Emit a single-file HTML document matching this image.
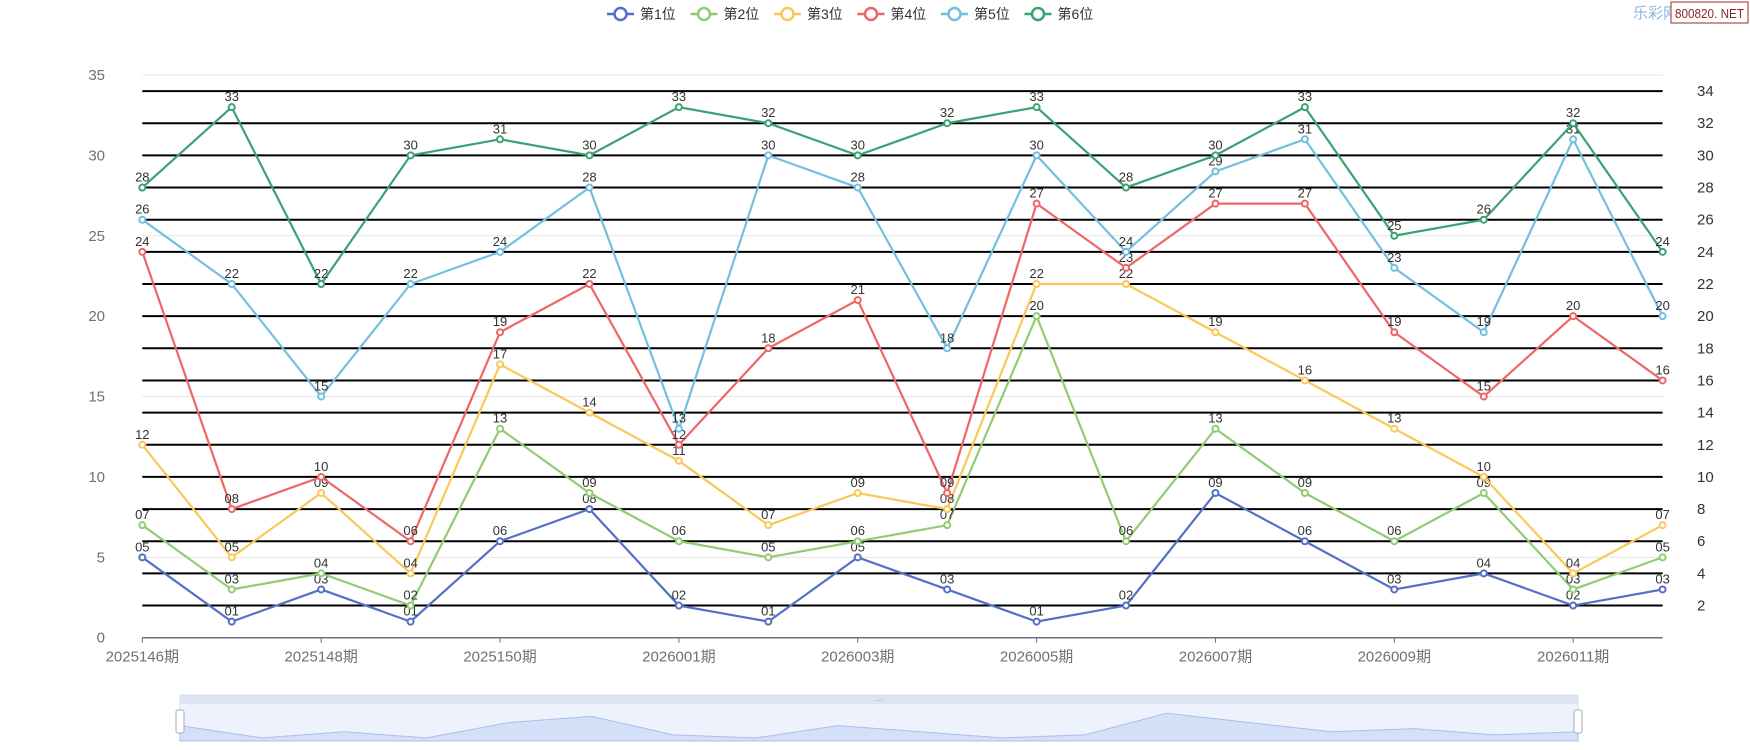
<!DOCTYPE html>
<html><head><meta charset="utf-8">
<style>
html,body{margin:0;padding:0;background:#fff;width:1750px;height:750px;overflow:hidden}
svg{display:block;font-family:"Liberation Sans","Noto Sans CJK SC",sans-serif}
</style></head>
<body>
<svg id="chart" width="1750" height="750" viewBox="0 0 1750 750">
  <g id="grid"></g>
  <g id="axes"></g>
  <g id="series"></g>
  <g id="legend"></g>
  <g>
    <text x="1633" y="18" font-size="15" fill="#8fb6dc">乐彩网</text>
    <rect x="1671" y="2" width="77" height="21" fill="#fff" stroke="#9b2a2a" stroke-width="1"/>
    <text x="1675" y="18" font-size="13" fill="#8b2323" textLength="69" lengthAdjust="spacingAndGlyphs">800820. NET</text>
  </g>
  <g>
    <rect x="180" y="695" width="1398" height="46" fill="#eef2fd" stroke="#d6dcec"/>
    <rect x="180" y="695" width="1398" height="9" fill="#dde3f2"/>
    <path id="sliderArea" fill="#d3e0f8" stroke="#a9c0ea" stroke-width="1"></path>
    <rect x="176" y="710" width="8" height="23" rx="2" fill="#fff" stroke="#aab"/>
    <rect x="1574" y="710" width="8" height="23" rx="2" fill="#fff" stroke="#aab"/>
    <text x="879" y="703" font-size="9" fill="#999" text-anchor="middle">···</text>
  </g>
</svg>
<script>
const categories = ["2025146期","2025147期","2025148期","2025149期","2025150期","2025151期","2026001期","2026002期","2026003期","2026004期","2026005期","2026006期","2026007期","2026008期","2026009期","2026010期","2026011期","2026012期"];
const seriesNames = ["第1位","第2位","第3位","第4位","第5位","第6位"];
const s1 = [5,1,3,1,6,8,2,1,5,3,1,2,9,6,3,4,2,3];
const s2 = [7,3,4,2,13,9,6,5,6,7,20,6,13,9,6,9,3,5];
const s3 = [12,5,9,4,17,14,11,7,9,8,22,22,19,16,13,10,4,7];
const s4 = [24,8,10,6,19,22,12,18,21,9,27,23,27,27,19,15,20,16];
const s5 = [26,22,15,22,24,28,13,30,28,18,30,24,29,31,23,19,31,20];
const s6 = [28,33,22,30,31,30,33,32,30,32,33,28,30,33,25,26,32,24];
const leftTicks = [0,5,10,15,20,25,30,35];
const rightTicks = [2,4,6,8,10,12,14,16,18,20,22,24,26,28,30,32,34];
const colors = ["#5470c6","#91cc75","#fac858","#ee6666","#73c0de","#3ba272"];
const allSeries = [s1,s2,s3,s4,s5,s6];

const NS="http://www.w3.org/2000/svg";
const X0=142.3, X1=1662.6, Y0=637.7, Y35=75;
function xs(i){return X0+(X1-X0)*i/(categories.length-1);}
function ys(v){return Y0-(Y0-Y35)*v/35;}
function mk(tag,attrs,parent){const e=document.createElementNS(NS,tag);for(const k in attrs)e.setAttribute(k,attrs[k]);parent.appendChild(e);return e;}
const grid=document.getElementById('grid'),axes=document.getElementById('axes'),ser=document.getElementById('series'),leg=document.getElementById('legend');

leftTicks.forEach(v=>{
  if(v>0){const l=mk('line',{x1:X0,x2:X1,y1:ys(v),y2:ys(v),stroke:'#e6e6e6','stroke-width':1},grid);
  
  }
  const t=mk('text',{x:105,y:ys(v)+5,'font-size':15,fill:'#6e7079','text-anchor':'end'},axes);
  t.textContent=v;
  
  
});
rightTicks.forEach(v=>{
  const l=mk('line',{x1:X0,x2:X1,y1:ys(v),y2:ys(v),stroke:'#000','stroke-width':2},grid);
  
  
  const t=mk('text',{x:1697,y:ys(v)+5,'font-size':15,fill:'#333'},axes);
  t.textContent=v;
  
  
});
const ax=mk('line',{x1:X0,x2:X1,y1:Y0,y2:Y0,stroke:'#6e7079','stroke-width':1.5},axes);


categories.forEach((c,i)=>{
  if(i%2)return;
  mk('line',{x1:xs(i),x2:xs(i),y1:Y0,y2:Y0+5,stroke:'#6e7079'},axes);
  const t=mk('text',{x:xs(i),y:Y0+24,'font-size':15,fill:'#6e7079','text-anchor':'middle'},axes);
  t.textContent=c;
  
  
});

allSeries.forEach((d,si)=>{
  const g=mk('g',{},ser);
  
  
  const p=mk('polyline',{points:d.map((v,i)=>xs(i)+','+ys(v)).join(' '),fill:'none',stroke:colors[si],'stroke-width':2.2},g);
  
  
  d.forEach((v,i)=>{
    const c=mk('circle',{cx:xs(i),cy:ys(v),r:3,fill:'#fff',stroke:colors[si],'stroke-width':2},g);
    
    
    const t=mk('text',{x:xs(i),y:ys(v)-6,'font-size':13,fill:'#333','text-anchor':'middle'},g);
    t.textContent=String(v).padStart(2,'0');
    
    
  });
});

seriesNames.forEach((n,i)=>{
  const x0=607+i*83.5;
  const g=mk('g',{},leg);
  
  
  mk('line',{x1:x0,x2:x0+27,y1:14,y2:14,stroke:colors[i],'stroke-width':2.5},g);
  mk('circle',{cx:x0+13.5,cy:14,r:6,fill:'#fff',stroke:colors[i],'stroke-width':2.5},g);
  const t=mk('text',{x:x0+33,y:19,'font-size':14,fill:'#333'},g);
  t.textContent=n;
});

(function(){
  const sx0=180,sx1=1578,top=704,bot=741;
  const mx=Math.max(...s1);
  let d='M'+sx0+','+bot;
  s1.forEach((v,i)=>{d+=' L'+(sx0+(sx1-sx0)*i/(s1.length-1))+','+(bot-(bot-top)*v/mx*0.75);});
  d+=' L'+sx1+','+bot+' Z';
  document.getElementById('sliderArea').setAttribute('d',d);
})();
</script>
</body></html>
